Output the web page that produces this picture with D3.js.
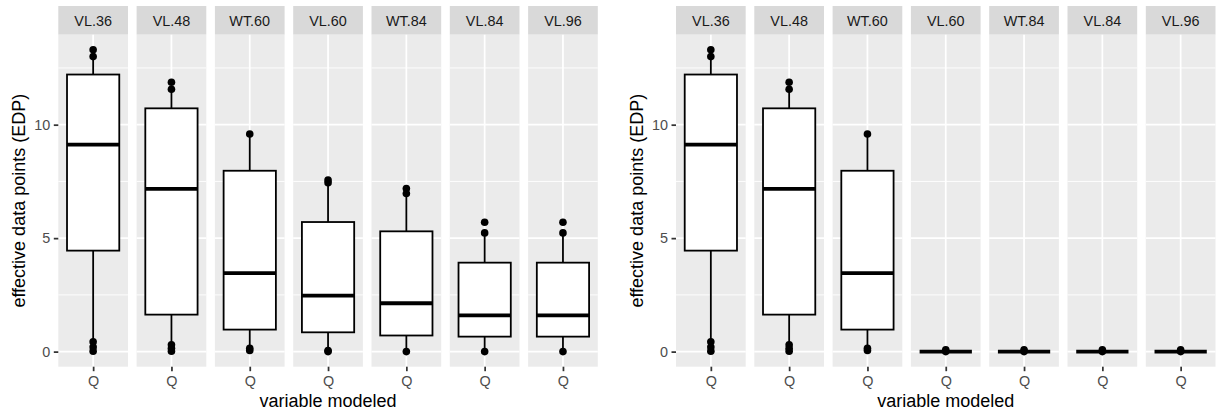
<!DOCTYPE html>
<html>
<head>
<meta charset="utf-8">
<script src="https://cdn.jsdelivr.net/npm/d3@7"></script>
<style>
  html, body { margin: 0; padding: 0; background: #fff; }
  svg { display: block; font-family: "Liberation Sans", Arial, Helvetica, sans-serif; }
</style>
</head>
<body>
<svg id="chart" width="1218" height="412"></svg>
<script>
// ---- data ----
const facets = ["VL.36", "VL.48", "WT.60", "VL.60", "WT.84", "VL.84", "VL.96"];
const category = ["Q"];
const yTicks = [0, 5, 10];
const yMinorTicks = [2.5, 7.5, 12.5];

// left chart
const leftWhiskerLow  = [0.43, 0.30, 0.15, 0.05, 0.00, 0.00, 0.00];
const leftQ1          = [4.45, 1.63, 0.97, 0.85, 0.71, 0.66, 0.66];
const leftMedian      = [9.12, 7.17, 3.46, 2.47, 2.13, 1.60, 1.60];
const leftQ3          = [12.21, 10.72, 7.97, 5.71, 5.30, 3.92, 3.92];
const leftWhiskerHigh = [13.00, 11.56, 9.59, 7.44, 6.97, 5.23, 5.23];
const leftPoints = [
  [13.30, 13.00, 0.43, 0.20, 0.02],
  [11.87, 11.56, 0.30, 0.15, 0.02],
  [9.59, 0.15, 0.05],
  [7.56, 7.44, 0.05, 0.00],
  [7.19, 6.97, 0.00],
  [5.70, 5.23, 0.00],
  [5.70, 5.23, 0.00]
];

// right chart
const rightWhiskerLow  = [0.43, 0.30, 0.15, 0, 0, 0, 0];
const rightQ1          = [4.45, 1.63, 0.97, 0, 0, 0, 0];
const rightMedian      = [9.12, 7.17, 3.46, 0, 0, 0, 0];
const rightQ3          = [12.21, 10.72, 7.97, 0, 0, 0, 0];
const rightWhiskerHigh = [13.00, 11.56, 9.59, 0, 0, 0, 0];
const rightPoints = [
  [13.30, 13.00, 0.43, 0.20, 0.02],
  [11.87, 11.56, 0.30, 0.15, 0.02],
  [9.59, 0.15, 0.05],
  [0.08, 0.00],
  [0.08, 0.00],
  [0.08, 0.00],
  [0.08, 0.00]
];

const xTitle = "variable modeled";
const yTitle = "effective data points (EDP)";

// ---- drawing ----
const svg = d3.select("#chart");
const stripTop = 6, panelTop = 34.7, panelBottom = 366.7;
const dataMax = 13.3;
const pad = dataMax * 0.05;
const y = d3.scaleLinear().domain([-pad, dataMax + pad]).range([panelBottom, panelTop]);

function drawChart(left, wLow, q1, med, q3, wHigh, pts) {
  const g = svg.append("g");
  const fx = d3.scaleBand().domain(facets).range([left, left + 539.5]).paddingInner(0.11).paddingOuter(0);
  const bw = fx.bandwidth();
  const x = d3.scalePoint().domain(category).range([0, bw]).padding(0.5);
  const boxW = bw * 0.75;

  facets.forEach((f, i) => {
    const fg = g.append("g").attr("transform", `translate(${fx(f)},0)`);
    // strip
    fg.append("rect").attr("x", 0).attr("y", stripTop).attr("width", bw).attr("height", panelTop - stripTop).attr("fill", "#D9D9D9");
    fg.append("text").attr("x", bw / 2).attr("y", (stripTop + panelTop) / 2).attr("dy", "0.36em")
      .attr("text-anchor", "middle").attr("font-size", 14.4).attr("fill", "#1A1A1A").text(f);
    // panel
    fg.append("rect").attr("x", 0).attr("y", panelTop).attr("width", bw).attr("height", panelBottom - panelTop).attr("fill", "#EBEBEB");
    yMinorTicks.forEach(t => fg.append("line").attr("x1", 0).attr("x2", bw).attr("y1", y(t)).attr("y2", y(t)).attr("stroke", "#fff").attr("stroke-width", 0.9));
    yTicks.forEach(t => fg.append("line").attr("x1", 0).attr("x2", bw).attr("y1", y(t)).attr("y2", y(t)).attr("stroke", "#fff").attr("stroke-width", 1.75));
    category.forEach(c => fg.append("line").attr("x1", x(c)).attr("x2", x(c)).attr("y1", panelTop).attr("y2", panelBottom).attr("stroke", "#fff").attr("stroke-width", 1.75));

    const cx = x("Q");
    // whiskers
    fg.append("line").attr("x1", cx).attr("x2", cx).attr("y1", y(q3[i])).attr("y2", y(wHigh[i])).attr("stroke", "#000").attr("stroke-width", 1.8);
    fg.append("line").attr("x1", cx).attr("x2", cx).attr("y1", y(q1[i])).attr("y2", y(wLow[i])).attr("stroke", "#000").attr("stroke-width", 1.8);
    // box
    fg.append("rect").attr("x", cx - boxW / 2).attr("y", y(q3[i])).attr("width", boxW).attr("height", Math.max(0, y(q1[i]) - y(q3[i])))
      .attr("fill", "#fff").attr("stroke", "#000").attr("stroke-width", 1.8);
    fg.append("line").attr("x1", cx - boxW / 2).attr("x2", cx + boxW / 2).attr("y1", y(med[i])).attr("y2", y(med[i]))
      .attr("stroke", "#000").attr("stroke-width", 3.8);
    // points
    pts[i].forEach(v => fg.append("circle").attr("cx", cx).attr("cy", y(v)).attr("r", 3.8).attr("fill", "#000"));

    // x axis tick + label
    const ax = fg.append("g").attr("transform", `translate(0,${panelBottom})`)
      .call(d3.axisBottom(x).tickSize(4.5).tickPadding(5));
    ax.select(".domain").remove();
    ax.selectAll("line").attr("stroke", "#333333").attr("stroke-width", 1.75);
    ax.selectAll("text").attr("fill", "#4D4D4D").attr("font-size", 14.4).attr("font-family", null);
  });

  // y axis
  const ay = g.append("g").attr("transform", `translate(${left},0)`)
    .call(d3.axisLeft(y).tickValues(yTicks).tickSize(4.5).tickPadding(3.6));
  ay.select(".domain").remove();
  ay.selectAll("line").attr("stroke", "#333333").attr("stroke-width", 1.75);
  ay.selectAll("text").attr("fill", "#4D4D4D").attr("font-size", 14.4).attr("font-family", null);

  // titles
  g.append("text").attr("x", left + 539.5 / 2).attr("y", 406.5).attr("text-anchor", "middle")
    .attr("font-size", 18).attr("fill", "#000").text(xTitle);
  g.append("text").attr("transform", `translate(${left - 33},${(panelTop + panelBottom) / 2}) rotate(-90)`)
    .attr("text-anchor", "middle").attr("font-size", 18).attr("fill", "#000").text(yTitle);
}

drawChart(58.3, leftWhiskerLow, leftQ1, leftMedian, leftQ3, leftWhiskerHigh, leftPoints);
drawChart(676.0, rightWhiskerLow, rightQ1, rightMedian, rightQ3, rightWhiskerHigh, rightPoints);
</script>
</body>
</html>
